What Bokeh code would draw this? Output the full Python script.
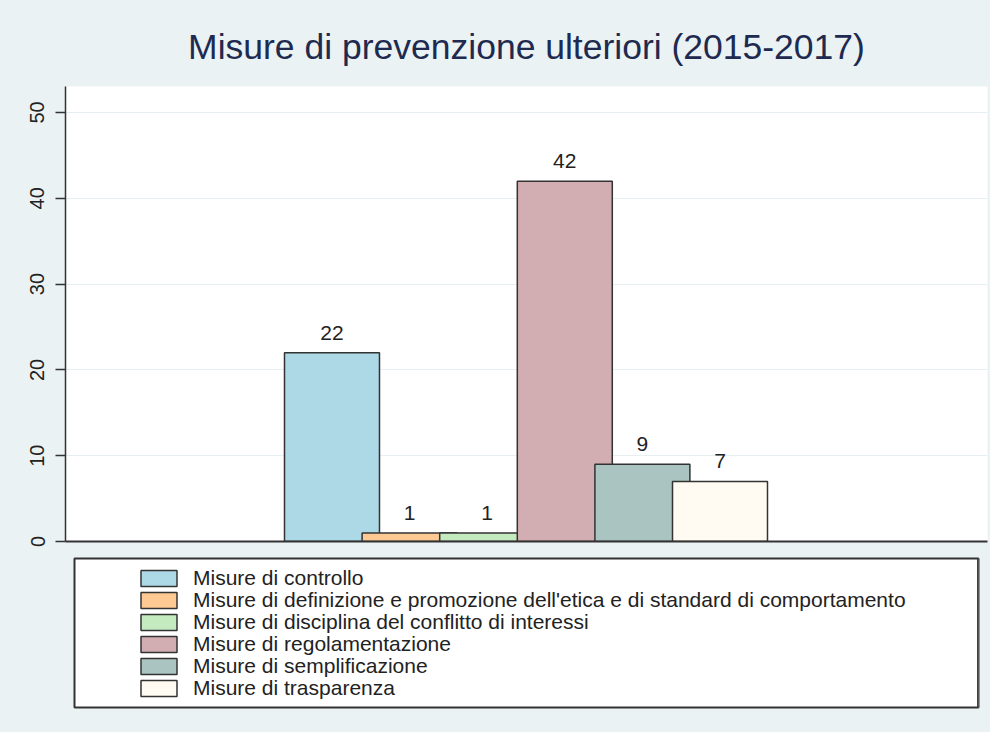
from bokeh.plotting import figure
from bokeh.models import (ColumnDataSource, Range1d, FixedTicker, Legend, LegendItem)
from bokeh.layouts import column, row
from bokeh.core.properties import value
from bokeh.embed import file_html
from bokeh.resources import INLINE

# ---- data ----
title_text = "Misure di prevenzione ulteriori (2015-2017)"
categories = [
    "Misure di controllo",
    "Misure di definizione e promozione dell'etica e di standard di comportamento",
    "Misure di disciplina del conflitto di interessi",
    "Misure di regolamentazione",
    "Misure di semplificazione",
    "Misure di trasparenza",
]
values = [22, 1, 1, 42, 9, 7]
colors = ["#ADD8E6", "#FFC993", "#C4EBC0", "#D2ADB2", "#A9C4C1", "#FFFAF2"]
y_ticks = [0, 10, 20, 30, 40, 50]

BG = "#EAF2F3"
FONT = "Liberation Sans"
TXT = "#222222"
EDGE = "#333333"

src = ColumnDataSource(data=dict(
    x=list(range(len(categories))),
    top=values,
    color=colors,
    label=[str(v) for v in values],
))

p = figure(width=989, height=546, output_backend="svg", toolbar_location=None,
           x_range=Range1d(-3.434, 8.447), y_range=Range1d(0, 53.03),
           min_border_left=64, min_border_right=3, min_border_top=82,
           min_border_bottom=9)
p.margin = (4, 0, 0, 1)
p.background_fill_color = "white"
p.border_fill_color = BG
p.outline_line_color = None

p.title.text = title_text
p.title.align = "center"
p.title.text_font = FONT
p.title.text_font_size = "35.5px"
p.title.text_font_style = "normal"
p.title.text_color = "#1E2A50"
p.title.standoff = 39

p.vbar(x="x", top="top", bottom=0, width=1.224, source=src,
       fill_color="color", line_color=EDGE, line_width=1.5)
p.text(x="x", y="top", text="label", source=src, text_align="center",
       text_baseline="alphabetic", y_offset=-20,
       text_font=value(FONT), text_font_size="21px", text_color=TXT)

p.xgrid.visible = False
p.ygrid.ticker = FixedTicker(ticks=y_ticks)
p.ygrid.grid_line_color = "#E6EFF1"
p.ygrid.grid_line_width = 1

ya = p.yaxis[0]
ya.ticker = FixedTicker(ticks=y_ticks)
ya.major_label_orientation = "vertical"
ya.major_label_text_font = FONT
ya.major_label_text_font_size = "20px"
ya.major_label_text_color = TXT
ya.major_label_standoff = 11
ya.major_tick_out = 10
ya.major_tick_in = 0
ya.minor_tick_out = 0
ya.minor_tick_in = 0
ya.axis_line_color = EDGE
ya.axis_line_width = 1.5
ya.major_tick_line_color = EDGE
ya.major_tick_line_width = 1.5

xa = p.xaxis[0]
xa.ticker = FixedTicker(ticks=[])
xa.major_label_text_font_size = "0px"
xa.major_tick_out = 0
xa.major_tick_in = 0
xa.minor_tick_out = 0
xa.minor_tick_in = 0
xa.major_label_standoff = 0
xa.axis_line_color = EDGE
xa.axis_line_width = 2

# ---- legend panel ----
p2 = figure(width=989, height=182, output_backend="svg", toolbar_location=None,
            x_range=Range1d(-2, -1), y_range=Range1d(0, 1),
            x_axis_location=None, y_axis_location=None,
            min_border_left=73, min_border_right=12, min_border_top=8,
            min_border_bottom=25)
p2.margin = (0, 0, 0, 1)
p2.background_fill_color = "white"
p2.border_fill_color = BG
p2.outline_line_color = EDGE
p2.outline_line_width = 2
p2.grid.visible = False

items = []
for i, (cat, col) in enumerate(zip(categories, colors)):
    s = ColumnDataSource(data=dict(x=[i], top=[values[i]]))
    r = p2.vbar(x="x", top="top", width=0.1, source=s, fill_color=col,
                line_color=EDGE, line_width=1.5)
    items.append(LegendItem(label=cat, renderers=[r]))

# entries in two interleaved columns of rows (odd / even) for a tight row pitch
legend_style = dict(padding=0, margin=0, spacing=20, glyph_width=45,
                    glyph_height=20, label_standoff=12, label_height=18,
                    label_text_font=FONT, label_text_font_size="21px",
                    label_text_color=TXT, border_line_alpha=0,
                    background_fill_alpha=0)
legend_a = Legend(items=items[0::2], location=(62, 29), **legend_style)
legend_b = Legend(items=items[1::2], location=(62, 7), **legend_style)
p2.add_layout(legend_a, "center")
p2.add_layout(legend_b, "center")

layout = column(p, row(p2), spacing=0)
layout.background = BG

open("out.html", "w").write(file_html(layout, INLINE))
